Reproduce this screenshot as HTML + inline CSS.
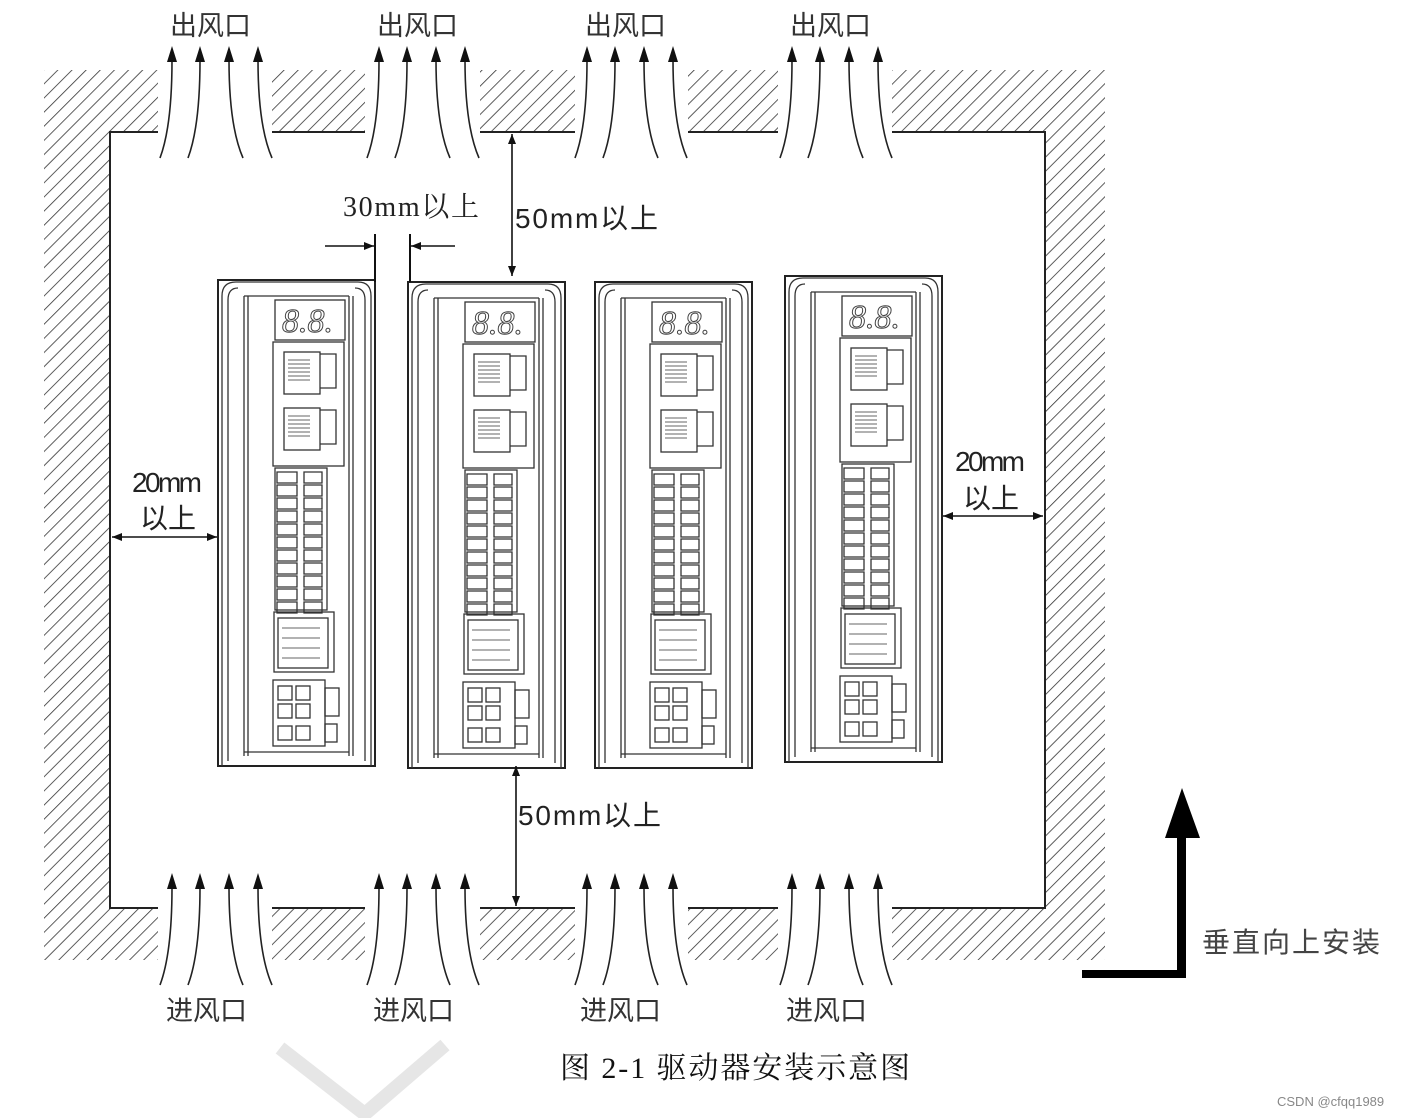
<!DOCTYPE html>
<html><head><meta charset="utf-8"><style>
html,body{margin:0;padding:0;background:#fff}
svg{display:block}
text{font-family:"Liberation Sans","Noto Sans CJK SC",sans-serif}
.s{font-family:"Liberation Serif","Noto Serif CJK SC",serif}
</style></head><body>
<svg width="1402" height="1118" viewBox="0 0 1402 1118" xmlns="http://www.w3.org/2000/svg">
<defs>
<pattern id="h" width="10" height="10" patternUnits="userSpaceOnUse" patternTransform="rotate(45)">
<line x1="0" y1="0" x2="0" y2="10" stroke="#333" stroke-width="1.6"/>
</pattern>
<marker id="ah" viewBox="0 0 10 10" refX="10" refY="5" markerWidth="10" markerHeight="10" markerUnits="userSpaceOnUse" orient="auto-start-reverse"><path d="M0,1 L10,5 L0,9z" fill="#111"/></marker>
<g id="arr" fill="none" stroke="#222" stroke-width="1.6">
<path d="M2,112 Q14,80 14,14"/><path d="M30,112 Q42,80 42,14"/><path d="M85,112 Q71,80 71,14"/><path d="M114,112 Q100,80 100,14"/>
<path d="M9,16 L14,0 L19,16z" fill="#111" stroke="none"/>
<path d="M37,16 L42,0 L47,16z" fill="#111" stroke="none"/>
<path d="M66,16 L71,0 L76,16z" fill="#111" stroke="none"/>
<path d="M95,16 L100,0 L105,16z" fill="#111" stroke="none"/>
</g>
<g id="drv" fill="none" stroke="#333" stroke-width="1.3">
<rect x="0" y="4" width="157" height="486" fill="#fff" stroke="#222" stroke-width="2"/>
<path d="M4,490 V20 Q4,6 18,6 H140 Q153,6 153,20 V490"/>
<path d="M10,485 V24 Q10,12 20,12"/><path d="M147,485 V24 Q147,12 137,12"/>
<line x1="26" y1="20" x2="26" y2="480"/><line x1="30" y1="20" x2="30" y2="480"/>
<line x1="131" y1="20" x2="131" y2="480"/><line x1="135" y1="20" x2="135" y2="480"/>
<line x1="26" y1="20" x2="131" y2="20"/><line x1="26" y1="476" x2="131" y2="476"/>
<rect x="57" y="24" width="70" height="40"/>
<text x="64" y="56" font-size="34" fill="none" stroke="#444" stroke-width="1" font-style="italic" class="s">8.8.</text>
<rect x="55" y="66" width="71" height="124"/>
<rect x="66" y="76" width="36" height="42"/><rect x="66" y="132" width="36" height="42"/>
<path d="M102,78 H118 V112 H102 M102,134 H118 V168 H102"/>
<path d="M70,84 H92 M70,88 H92 M70,92 H92 M70,96 H92 M70,100 H92 M70,104 H92 M70,140 H92 M70,144 H92 M70,148 H92 M70,152 H92 M70,156 H92 M70,160 H92" stroke-width="0.8"/>
<rect x="57" y="192" width="52" height="142"/>
<path d="M59,196 h20 v11 h-20z m0,13 h20 v11 h-20z m0,13 h20 v11 h-20z m0,13 h20 v11 h-20z m0,13 h20 v11 h-20z m0,13 h20 v11 h-20z m0,13 h20 v11 h-20z m0,13 h20 v11 h-20z m0,13 h20 v11 h-20z m0,13 h20 v11 h-20z m0,13 h20 v11 h-20z"/>
<path d="M86,196 h18 v11 h-18z m0,13 h18 v11 h-18z m0,13 h18 v11 h-18z m0,13 h18 v11 h-18z m0,13 h18 v11 h-18z m0,13 h18 v11 h-18z m0,13 h18 v11 h-18z m0,13 h18 v11 h-18z m0,13 h18 v11 h-18z m0,13 h18 v11 h-18z m0,13 h18 v11 h-18z"/>
<rect x="56" y="336" width="60" height="60"/><rect x="60" y="342" width="50" height="50"/>
<path d="M64,352 H102 M64,362 H102 M64,372 H102 M64,382 H102" stroke-width="0.8"/>
<rect x="55" y="404" width="52" height="66"/>
<rect x="60" y="410" width="14" height="14"/><rect x="78" y="410" width="14" height="14"/>
<rect x="60" y="428" width="14" height="14"/><rect x="78" y="428" width="14" height="14"/>
<rect x="60" y="450" width="14" height="14"/><rect x="78" y="450" width="14" height="14"/>
<rect x="107" y="412" width="14" height="28"/><rect x="107" y="448" width="12" height="18"/>
</g>
</defs>
<g fill="url(#h)">
<rect x="44" y="70" width="114" height="62"/><rect x="272" y="70" width="93" height="62"/>
<rect x="480" y="70" width="95" height="62"/><rect x="688" y="70" width="90" height="62"/>
<rect x="892" y="70" width="213" height="62"/>
<rect x="44" y="908" width="114" height="52"/><rect x="272" y="908" width="93" height="52"/>
<rect x="480" y="908" width="95" height="52"/><rect x="688" y="908" width="90" height="52"/>
<rect x="892" y="908" width="213" height="52"/>
<rect x="44" y="132" width="66" height="776"/><rect x="1045" y="132" width="60" height="776"/>
</g>
<g stroke="#222" stroke-width="2" fill="none">
<path d="M158,132 H110 V908 H158"/><path d="M272,132 H365 M480,132 H575 M688,132 H778"/>
<path d="M892,132 H1045 V908 H892"/><path d="M272,908 H365 M480,908 H575 M688,908 H778"/>
</g>
<use href="#arr" x="158" y="46"/><use href="#arr" x="365" y="46"/><use href="#arr" x="573" y="46"/><use href="#arr" x="778" y="46"/>
<use href="#arr" x="158" y="873"/><use href="#arr" x="365" y="873"/><use href="#arr" x="573" y="873"/><use href="#arr" x="778" y="873"/>
<g font-size="27" fill="#333">
<text x="170" y="35">出风口</text><text x="377" y="35">出风口</text><text x="585" y="35">出风口</text><text x="790" y="35">出风口</text>
<text x="166" y="1020">进风口</text><text x="373" y="1020">进风口</text><text x="580" y="1020">进风口</text><text x="786" y="1020">进风口</text>
</g>
<use href="#drv" x="218" y="276"/><use href="#drv" x="408" y="278"/><use href="#drv" x="595" y="278"/><use href="#drv" x="785" y="272"/>
<g stroke="#111" stroke-width="1.6" fill="none">
<line x1="512" y1="134" x2="512" y2="276" marker-start="url(#ah)" marker-end="url(#ah)"/>
<line x1="516" y1="766" x2="516" y2="906" marker-start="url(#ah)" marker-end="url(#ah)"/>
<line x1="375" y1="234" x2="375" y2="282" stroke-width="2"/><line x1="410" y1="234" x2="410" y2="282" stroke-width="2"/>
<line x1="325" y1="246" x2="374" y2="246" marker-end="url(#ah)"/>
<line x1="455" y1="246" x2="411" y2="246" marker-end="url(#ah)"/>
<line x1="112" y1="537" x2="217" y2="537" marker-start="url(#ah)" marker-end="url(#ah)"/>
<line x1="943" y1="516" x2="1043" y2="516" marker-start="url(#ah)" marker-end="url(#ah)"/>
</g>
<g fill="#222" font-size="28">
<text x="343" y="216" class="s" textLength="136">30mm以上</text>
<text x="515" y="228" textLength="143">50mm以上</text>
<text x="518" y="825" textLength="143">50mm以上</text>
<text x="132" y="492" textLength="70">20mm</text><text x="140" y="528">以上</text>
<text x="955" y="471" textLength="70">20mm</text><text x="963" y="508">以上</text>
</g>
<path d="M1082,970 H1177 V838 H1165 L1182,788 L1200,838 H1186 V978 H1082z" fill="#000"/>
<text x="1202" y="952" font-size="28" fill="#444" textLength="178">垂直向上安装</text>
<g stroke="#e6e6e6" stroke-width="14"><line x1="280" y1="1048" x2="370" y2="1118"/><line x1="445" y1="1045" x2="360" y2="1118"/></g>
<text x="560" y="1078" font-size="30" fill="#111" class="s" textLength="350">图 2-1 驱动器安装示意图</text>
<text x="1277" y="1106" font-size="13" fill="#888">CSDN @cfqq1989</text>
</svg>
</body></html>
